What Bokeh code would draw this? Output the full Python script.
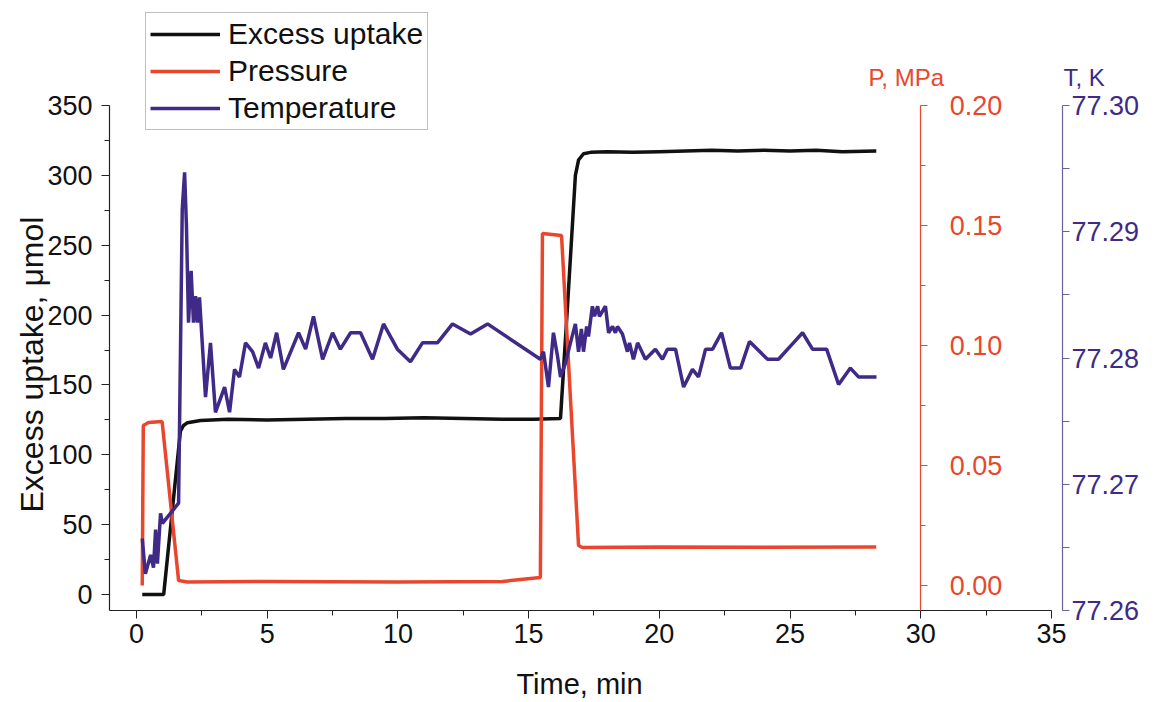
import math
from bokeh.plotting import figure
from bokeh.models import (Range1d, LinearAxis, FixedTicker, NumeralTickFormatter,
                          Legend, LegendItem, Label)
from bokeh.embed import file_html
from bokeh.resources import INLINE

# ---------------- data ----------------
uptake_t = [0.22, 1.04, 1.68, 1.80, 1.95, 2.45, 3.5, 5.0, 6.5, 8.0, 9.5, 11.0, 12.5,
            14.0, 15.2, 16.22, 16.49, 16.79, 16.91, 17.10, 17.37, 18.0, 19.0, 20.0,
            21.0, 22.0, 23.0, 24.0, 25.0, 26.0, 27.0, 28.3]
uptake = [0, 0, 117, 121, 123, 124.5, 125.5, 125, 125.5, 126, 126, 126.5, 126,
          125.5, 125.5, 126, 207, 300, 311, 315.5, 316.5, 317, 316.5, 317,
          317.5, 318, 317.5, 318, 317.5, 318, 317, 317.5]

pressure_t = [0.22, 0.26, 0.46, 0.98, 1.61, 1.95, 5.0, 10.0, 14.0, 15.45, 15.53,
              16.26, 16.91, 17.06, 20.0, 24.0, 28.3]
pressure = [0.0, 0.0667, 0.0679, 0.0683, 0.0021, 0.0015, 0.0017, 0.0015, 0.0017,
            0.0033, 0.1467, 0.1458, 0.0167, 0.0158, 0.0160, 0.0159, 0.0160]

temp_t = [0.22, 0.34, 0.54, 0.65, 0.73, 0.80, 0.92, 0.99, 1.61, 1.75, 1.84, 1.91,
          1.99, 2.09, 2.18, 2.26, 2.33, 2.41, 2.64, 2.83, 3.02, 3.37, 3.56, 3.75,
          3.94, 4.17, 4.44, 4.67, 4.93, 5.13, 5.36, 5.62, 6.20, 6.47, 6.77, 7.12,
          7.50, 7.80, 8.19, 8.57, 9.03, 9.45, 9.98, 10.48, 10.94, 11.51, 12.09,
          12.78, 13.43, 15.45, 15.57, 15.76, 15.95, 16.11, 16.22, 16.41, 16.60,
          16.79, 16.91, 17.02, 17.10, 17.22, 17.29, 17.44, 17.52, 17.64, 17.71,
          17.94, 18.06, 18.21, 18.32, 18.40, 18.59, 18.78, 18.86, 19.01, 19.17,
          19.47, 19.85, 20.12, 20.31, 20.62, 20.93, 21.27, 21.50, 21.77, 22.04,
          22.38, 22.72, 23.11, 23.45, 24.14, 24.56, 25.13, 25.48, 25.86, 26.40,
          26.86, 27.31, 27.62, 28.31]
temp = [77.2657, 77.2629, 77.2644, 77.2634, 77.2664, 77.2637, 77.2677, 77.2669,
        77.2685, 77.2918, 77.2947, 77.2905, 77.2828, 77.2869, 77.2828, 77.2849,
        77.2828, 77.2848, 77.2769, 77.2812, 77.2757, 77.2777, 77.2757, 77.2791,
        77.2785, 77.2812, 77.2805, 77.2792, 77.2812, 77.2800, 77.2820, 77.2791,
        77.2820, 77.2807, 77.2833, 77.2799, 77.2820, 77.2807, 77.2820, 77.2820,
        77.2799, 77.2827, 77.2807, 77.2797, 77.2812, 77.2812, 77.2827, 77.2819,
        77.2827, 77.2799, 77.2805, 77.2777, 77.2820, 77.2801, 77.2785, 77.2796,
        77.2812, 77.2827, 77.2805, 77.2823, 77.2805, 77.2825, 77.2817, 77.2841,
        77.2833, 77.2841, 77.2833, 77.2841, 77.2820, 77.2825, 77.2820, 77.2825,
        77.2819, 77.2805, 77.2812, 77.2799, 77.2812, 77.2799, 77.2807, 77.2799,
        77.2807, 77.2807, 77.2777, 77.2791, 77.2785, 77.2807, 77.2807, 77.2820,
        77.2792, 77.2792, 77.2813, 77.2799, 77.2799, 77.2812, 77.2820, 77.2807,
        77.2807, 77.2779, 77.2792, 77.2785, 77.2785]

x_ticks = [0, 5, 10, 15, 20, 25, 30, 35]
x_minor = [2.5, 7.5, 12.5, 17.5, 22.5, 27.5, 32.5]
y_ticks = [0, 50, 100, 150, 200, 250, 300, 350]
y_minor = [25, 75, 125, 175, 225, 275, 325]
p_ticks = [0.0, 0.05, 0.10, 0.15, 0.20]
p_minor = [0.025, 0.075, 0.125, 0.175]
t_ticks = [77.26, 77.27, 77.28, 77.29, 77.30]
t_minor = [77.265, 77.275, 77.285, 77.295]

series_names = ["Excess uptake", "Pressure", "Temperature"]
x_title = "Time, min"
y_title = "Excess uptake, \u03bcmol"
p_title = "P, MPa"
t_title = "T, K"

# ---------------- layout / styling ----------------
FONT = "Liberation Sans"
BLACK = "#111111"
RED = "#E9472D"
PURPLE = "#3F2A88"
PURPLE_AXIS = "#6E5FA3"

X_LO, X_HI = -5.2028, 38.944          # whole canvas is the frame
Y_LO, Y_HI = -77.31, 425.20
P_LO, P_HI = -0.04875, 0.24375
T_LO, T_HI = 77.25271, 77.30832
X_AXIS_AT = -11.45                    # data y of the time axis
Y_AXIS_AT = -1.033                    # data x of the uptake axis
P_AXIS_AT = 30.0
T_AXIS_AT = 35.424

p = figure(width=1154, height=702,
           x_range=Range1d(X_LO, X_HI), y_range=Range1d(Y_LO, Y_HI),
           output_backend="svg", toolbar_location=None,
           min_border_left=0, min_border_right=0, min_border_top=0,
           min_border_bottom=0, outline_line_color=None,
           background_fill_color="white", border_fill_color="white")
p.grid.visible = False
p.extra_y_ranges = {"p": Range1d(P_LO, P_HI), "t": Range1d(T_LO, T_HI)}

r_up = p.line(uptake_t, uptake, line_color=BLACK, line_width=3.5)
r_p = p.line(pressure_t, pressure, y_range_name="p", line_color=RED, line_width=3.5)
r_t = p.line(temp_t, temp, y_range_name="t", line_color=PURPLE, line_width=3.5)


def style_axis(ax, color, label_color, size="27px"):
    ax.axis_line_color = color
    ax.axis_line_width = 1.2
    ax.major_tick_line_color = color
    ax.minor_tick_line_color = color
    ax.major_tick_out = 8
    ax.major_tick_in = 0
    ax.minor_tick_out = 5
    ax.minor_tick_in = 0
    ax.major_label_text_font = FONT
    ax.major_label_text_font_size = size
    ax.major_label_text_color = label_color


xa = p.xaxis[0]
xa.ticker = FixedTicker(ticks=x_ticks, minor_ticks=x_minor)
xa.fixed_location = X_AXIS_AT
xa.bounds = (Y_AXIS_AT, 35)
style_axis(xa, "#222222", "#111111")
xa.major_label_standoff = 6

ya = p.yaxis[0]
ya.ticker = FixedTicker(ticks=y_ticks, minor_ticks=y_minor)
ya.fixed_location = Y_AXIS_AT
ya.bounds = (X_AXIS_AT, 350)
style_axis(ya, "#222222", "#111111")
ya.major_label_standoff = 9

pa = LinearAxis(y_range_name="p", fixed_location=P_AXIS_AT, bounds=(-0.0104, 0.20),
                ticker=FixedTicker(ticks=p_ticks, minor_ticks=p_minor),
                formatter=NumeralTickFormatter(format="0.00"))
style_axis(pa, RED, RED)
pa.major_tick_out = 7
pa.minor_tick_out = 5
pa.major_label_standoff = 22
p.add_layout(pa, "right")

ta = LinearAxis(y_range_name="t", fixed_location=T_AXIS_AT, bounds=(77.26, 77.30),
                ticker=FixedTicker(ticks=t_ticks, minor_ticks=t_minor),
                formatter=NumeralTickFormatter(format="0.00"))
style_axis(ta, PURPLE_AXIS, PURPLE)
ta.major_tick_out = 7
ta.minor_tick_out = 7
ta.major_label_standoff = 2
p.add_layout(ta, "right")

legend = Legend(items=[LegendItem(label=series_names[0], renderers=[r_up]),
                       LegendItem(label=series_names[1], renderers=[r_p]),
                       LegendItem(label=series_names[2], renderers=[r_t])],
                location=(145, 572), margin=0, padding=4, spacing=3,
                glyph_width=70, glyph_height=30, label_height=30,
                label_standoff=8, label_text_font=FONT,
                label_text_font_size="30px", label_text_color="#111111",
                border_line_color="#808080", border_line_width=1,
                background_fill_color="white", background_fill_alpha=1)
p.add_layout(legend)

# axis titles as text annotations inside the (full-canvas) frame
p.add_layout(Label(x=16.95, y=-64.2, text=x_title, text_font=FONT,
                   text_font_size="29px", text_color="#111111",
                   text_baseline="alphabetic", text_align="center"))
p.add_layout(Label(x=-3.979, y=164.6, text=y_title, text_font=FONT,
                   text_font_size="32px", text_color="#111111", angle=math.pi / 2,
                   text_baseline="alphabetic", text_align="center"))
p.add_layout(Label(x=28.0, y=370.1, text=p_title, text_font=FONT,
                   text_font_size="24px", text_color=RED,
                   text_baseline="alphabetic", text_align="left"))
p.add_layout(Label(x=35.46, y=370.1, text=t_title, text_font=FONT,
                   text_font_size="24px", text_color=PURPLE,
                   text_baseline="alphabetic", text_align="left"))

open("out.html", "w").write(file_html(p, INLINE))
